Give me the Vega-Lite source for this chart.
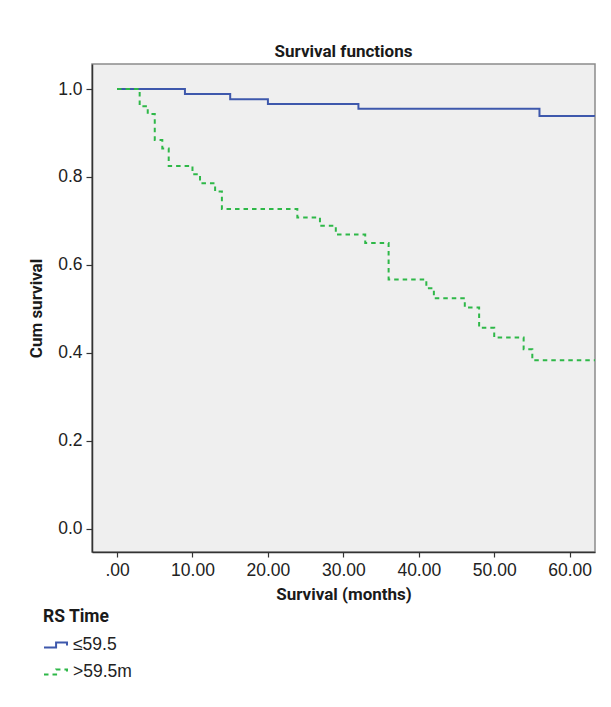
{
  "$schema": "https://vega.github.io/schema/vega-lite/v6.json",
  "width": 503,
  "height": 488,
  "autosize": {"type": "none"},
  "padding": {"left": 92, "top": 64, "right": 16, "bottom": 155},
  "background": "white",
  "title": {
    "text": "Survival functions",
    "font": "Roboto",
    "fontSize": 17,
    "fontWeight": "bold",
    "color": "#1a1a1a",
    "offset": 3,
    "anchor": "middle",
    "frame": "group"
  },
  "data": {
    "values": [
      {"g": "≤59.5", "t": 0, "s": 1.0},
      {"g": "≤59.5", "t": 9, "s": 0.989},
      {"g": "≤59.5", "t": 15, "s": 0.977},
      {"g": "≤59.5", "t": 20, "s": 0.966},
      {"g": "≤59.5", "t": 32, "s": 0.955},
      {"g": "≤59.5", "t": 56, "s": 0.939},
      {"g": "≤59.5", "t": 63.36, "s": 0.939},
      {"g": ">59.5m", "t": 0, "s": 1.0},
      {"g": ">59.5m", "t": 3.0, "s": 0.961},
      {"g": ">59.5m", "t": 4.07, "s": 0.943},
      {"g": ">59.5m", "t": 5.0, "s": 0.884},
      {"g": ">59.5m", "t": 6.0, "s": 0.865},
      {"g": ">59.5m", "t": 6.85, "s": 0.825},
      {"g": ">59.5m", "t": 10.0, "s": 0.806},
      {"g": ">59.5m", "t": 11.0, "s": 0.786},
      {"g": ">59.5m", "t": 13.0, "s": 0.767},
      {"g": ">59.5m", "t": 13.9, "s": 0.727},
      {"g": ">59.5m", "t": 23.9, "s": 0.708},
      {"g": ">59.5m", "t": 26.9, "s": 0.689},
      {"g": ">59.5m", "t": 29.0, "s": 0.669},
      {"g": ">59.5m", "t": 32.9, "s": 0.650},
      {"g": ">59.5m", "t": 36.0, "s": 0.567},
      {"g": ">59.5m", "t": 41.0, "s": 0.547},
      {"g": ">59.5m", "t": 42.0, "s": 0.524},
      {"g": ">59.5m", "t": 46.1, "s": 0.503},
      {"g": ">59.5m", "t": 48.0, "s": 0.457},
      {"g": ">59.5m", "t": 50.0, "s": 0.435},
      {"g": ">59.5m", "t": 53.9, "s": 0.408},
      {"g": ">59.5m", "t": 55.05, "s": 0.383},
      {"g": ">59.5m", "t": 63.36, "s": 0.383}
    ]
  },
  "mark": {"type": "line", "interpolate": "step-after", "strokeWidth": 2, "clip": true},
  "encoding": {
    "x": {
      "field": "t",
      "type": "quantitative",
      "scale": {"domain": [-3.32, 63.36], "nice": false, "zero": false},
      "axis": {
        "values": [0, 10, 20, 30, 40, 50, 60],
        "labelExpr": "datum.value == 0 ? '.00' : format(datum.value, '.2f')",
        "title": "Survival (months)",
        "tickSize": 5,
        "labelPadding": 4,
        "titlePadding": 8
      }
    },
    "y": {
      "field": "s",
      "type": "quantitative",
      "scale": {"domain": [-0.053, 1.057], "nice": false, "zero": false},
      "axis": {
        "values": [0, 0.2, 0.4, 0.6, 0.8, 1.0],
        "format": ".1f",
        "title": "Cum survival",
        "tickSize": 6,
        "labelPadding": 4,
        "titlePadding": 12
      }
    },
    "color": {
      "field": "g",
      "type": "nominal",
      "title": "RS Time",
      "scale": {"domain": ["≤59.5", ">59.5m"], "range": ["#3E58AC", "#2EB848"]}
    },
    "strokeDash": {
      "field": "g",
      "type": "nominal",
      "title": "RS Time",
      "scale": {"domain": ["≤59.5", ">59.5m"], "range": [[1, 0], [4.5, 4]]}
    }
  },
  "config": {
    "view": {"fill": "#EFEFEF", "stroke": "#8c8c8c", "strokeWidth": 1.5},
    "axis": {
      "grid": false,
      "domainColor": "#333333",
      "domainWidth": 1.5,
      "tickColor": "#333333",
      "tickWidth": 1.2,
      "labelFont": "Liberation Sans",
      "labelFontSize": 17.5,
      "labelColor": "#222222",
      "titleFont": "Roboto",
      "titleFontSize": 17,
      "titleFontWeight": "bold",
      "titleColor": "#1a1a1a"
    },
    "legend": {
      "orient": "none",
      "legendX": -49,
      "legendY": 544,
      "direction": "vertical",
      "titleFont": "Roboto",
      "titleFontSize": 17.5,
      "titleFontWeight": "bold",
      "titleColor": "#1a1a1a",
      "titlePadding": 7,
      "labelFont": "Liberation Sans",
      "labelFontSize": 17.5,
      "labelColor": "#222222",
      "labelOffset": 5,
      "symbolType": "M-1,0.22H0.05V-0.22H1V0.05",
      "symbolSize": 529,
      "symbolStrokeWidth": 2,
      "symbolFillColor": "transparent",
      "rowPadding": 6
    }
  }
}
